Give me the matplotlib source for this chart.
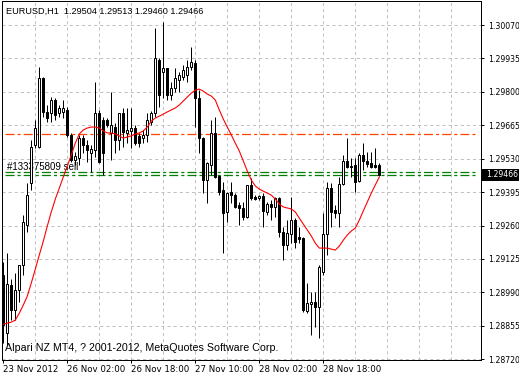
import matplotlib
matplotlib.use('Agg')
import matplotlib.pyplot as plt
from matplotlib import font_manager
from matplotlib.patches import Rectangle

# ---------------- data ----------------
opens = [1.29060, 1.28826, 1.29020, 1.28919, 1.28999, 1.29100, 1.29262, 1.29432, 1.29585, 1.29577,
         1.29856, 1.29719, 1.29714, 1.29767, 1.29714, 1.29719, 1.29727, 1.29626, 1.29525, 1.29533,
         1.29613, 1.29585, 1.29553, 1.29565, 1.29714, 1.29686, 1.29686, 1.29634, 1.29658, 1.29605,
         1.29714, 1.29634, 1.29642, 1.29654, 1.29622, 1.29613, 1.29626, 1.29678, 1.29714, 1.29929,
         1.29880, 1.29896, 1.29787, 1.29815, 1.29848, 1.29860, 1.29868, 1.29900, 1.29916, 1.29775,
         1.29613, 1.29444, 1.29504, 1.29634, 1.29460, 1.29403, 1.29315, 1.29395, 1.29383, 1.29343,
         1.29331, 1.29294, 1.29424, 1.29375, 1.29371, 1.29379, 1.29315, 1.29347, 1.29335, 1.29371,
         1.29234, 1.29181, 1.29226, 1.29282, 1.29214, 1.29209, 1.28915, 1.28943, 1.28951, 1.28931,
         1.29072, 1.29226, 1.29411, 1.29323, 1.29310, 1.29428, 1.29521, 1.29500, 1.29504, 1.29440,
         1.29545, 1.29521, 1.29512, 1.29504, 1.29504]
highs = [1.29113, 1.29149, 1.29044, 1.29068, 1.29100, 1.29302, 1.29432, 1.29605, 1.29686, 1.29900,
         1.29860, 1.29747, 1.29779, 1.29775, 1.29747, 1.29767, 1.29739, 1.29634, 1.29557, 1.29626,
         1.29626, 1.29605, 1.29585, 1.29840, 1.29727, 1.29698, 1.29694, 1.29799, 1.29674, 1.29714,
         1.29735, 1.29735, 1.29735, 1.29666, 1.29634, 1.29646, 1.29714, 1.29723, 1.30058, 1.29937,
         1.30082, 1.29896, 1.29840, 1.29896, 1.29880, 1.29908, 1.29929, 1.29981, 1.29929, 1.29807,
         1.29618, 1.29517, 1.29686, 1.29698, 1.29464, 1.29436, 1.29395, 1.29436, 1.29391, 1.29355,
         1.29355, 1.29424, 1.29452, 1.29383, 1.29383, 1.29391, 1.29355, 1.29363, 1.29375, 1.29375,
         1.29254, 1.29282, 1.29375, 1.29290, 1.29254, 1.29214, 1.29028, 1.28991, 1.28991, 1.29100,
         1.29310, 1.29436, 1.29432, 1.29343, 1.29456, 1.29545, 1.29613, 1.29533, 1.29533, 1.29553,
         1.29593, 1.29557, 1.29557, 1.29573, 1.29513]
lows = [1.28785, 1.28777, 1.28878, 1.28878, 1.28951, 1.29060, 1.29234, 1.29403, 1.29573, 1.29573,
        1.29698, 1.29678, 1.29678, 1.29686, 1.29698, 1.29694, 1.29618, 1.29517, 1.29504, 1.29504,
        1.29553, 1.29517, 1.29476, 1.29537, 1.29512, 1.29464, 1.29658, 1.29525, 1.29553, 1.29565,
        1.29577, 1.29593, 1.29573, 1.29585, 1.29577, 1.29593, 1.29597, 1.29666, 1.29698, 1.29739,
        1.29775, 1.29767, 1.29767, 1.29799, 1.29799, 1.29848, 1.29840, 1.29888, 1.29658, 1.29553,
        1.29391, 1.29351, 1.29464, 1.29452, 1.29383, 1.29149, 1.29274, 1.29351, 1.29331, 1.29262,
        1.29282, 1.29290, 1.29363, 1.29363, 1.29363, 1.29254, 1.29302, 1.29282, 1.29294, 1.29214,
        1.29121, 1.29161, 1.29189, 1.29169, 1.29189, 1.28911, 1.28906, 1.28818, 1.28850, 1.28805,
        1.29060, 1.29141, 1.29254, 1.29290, 1.29254, 1.29424, 1.29492, 1.29456, 1.29395, 1.29436,
        1.29484, 1.29496, 1.29492, 1.29492, 1.29460]
closes = [1.28858, 1.29024, 1.28919, 1.28999, 1.29100, 1.29274, 1.29383, 1.29577, 1.29654, 1.29856,
          1.29719, 1.29694, 1.29767, 1.29706, 1.29735, 1.29735, 1.29626, 1.29525, 1.29541, 1.29613,
          1.29585, 1.29565, 1.29569, 1.29714, 1.29517, 1.29553, 1.29666, 1.29666, 1.29605, 1.29714,
          1.29638, 1.29646, 1.29654, 1.29593, 1.29593, 1.29626, 1.29686, 1.29714, 1.29937, 1.29787,
          1.29896, 1.29787, 1.29815, 1.29856, 1.29868, 1.29888, 1.29900, 1.29921, 1.29775, 1.29613,
          1.29444, 1.29512, 1.29634, 1.29456, 1.29395, 1.29310, 1.29391, 1.29383, 1.29335, 1.29331,
          1.29294, 1.29424, 1.29371, 1.29367, 1.29379, 1.29319, 1.29347, 1.29335, 1.29371, 1.29234,
          1.29181, 1.29230, 1.29282, 1.29193, 1.29205, 1.28919, 1.28947, 1.28951, 1.28931, 1.29092,
          1.29226, 1.29411, 1.29315, 1.29310, 1.29428, 1.29521, 1.29496, 1.29496, 1.29436, 1.29545,
          1.29521, 1.29508, 1.29496, 1.29496, 1.29466]
ma = [1.28862, 1.28866, 1.28870, 1.28878, 1.28906, 1.28939, 1.28975, 1.29028, 1.29084, 1.29141,
      1.29197, 1.29258, 1.29315, 1.29367, 1.29411, 1.29456, 1.29500, 1.29545, 1.29593, 1.29630,
      1.29646, 1.29654, 1.29658, 1.29658, 1.29654, 1.29642, 1.29634, 1.29634, 1.29630, 1.29622,
      1.29613, 1.29618, 1.29622, 1.29630, 1.29634, 1.29642, 1.29658, 1.29682, 1.29694, 1.29702,
      1.29710, 1.29719, 1.29727, 1.29735, 1.29747, 1.29763, 1.29779, 1.29795, 1.29807, 1.29811,
      1.29803, 1.29791, 1.29783, 1.29767, 1.29727, 1.29690, 1.29658, 1.29626, 1.29593, 1.29561,
      1.29521, 1.29480, 1.29444, 1.29420, 1.29407, 1.29399, 1.29391, 1.29383, 1.29367, 1.29347,
      1.29335, 1.29331, 1.29327, 1.29315, 1.29290, 1.29266, 1.29242, 1.29218, 1.29189, 1.29169,
      1.29169, 1.29169, 1.29165, 1.29161, 1.29177, 1.29201, 1.29222, 1.29238, 1.29250, 1.29282,
      1.29319, 1.29355, 1.29391, 1.29424, 1.29456]

price_ticks = [1.30070, 1.29935, 1.29800, 1.29665, 1.29530, 1.29395,
               1.29260, 1.29125, 1.28990, 1.28855, 1.28720]
time_labels = ["23 Nov 2012", "26 Nov 02:00", "26 Nov 18:00",
               "27 Nov 10:00", "28 Nov 02:00", "28 Nov 18:00"]
time_label_bars = [0, 16, 32, 48, 64, 80]
grid_bars = [8, 16, 24, 32, 40, 48, 56, 64, 72, 80, 88, 96, 104, 112]

symbol_text = "EURUSD,H1  1.29504 1.29513 1.29460 1.29466"
footer_text = "Alpari NZ MT4, ? 2001-2012, MetaQuotes Software Corp."
order_label = "#133375809 sell"
level_orange = 1.29630
order_price = 1.29475
bid_price = 1.29466

# ---------------- style ----------------
plt.rcParams['lines.scale_dashes'] = False


def has_font(name):
    try:
        font_manager.findfont(font_manager.FontProperties(family=name),
                              fallback_to_default=False)
        return True
    except Exception:
        return False


if has_font('Liberation Sans Narrow'):
    NARROW, FS_Y, FS_X = 'Liberation Sans Narrow', 7.4, 8.0
else:
    NARROW, FS_Y, FS_X = 'DejaVu Sans', 5.6, 6.2
REG = 'Liberation Sans' if has_font('Liberation Sans') else 'DejaVu Sans'
FS_HEAD, FS_FOOT, FS_ORDER = 6.6, 7.7, 7.0

plt.rcParams['font.family'] = [NARROW, 'DejaVu Sans']

W, H = 519, 378
fig = plt.figure(figsize=(W / 100, H / 100), dpi=100)
fig.patch.set_facecolor('white')
ax = fig.add_axes([1.7 / W, (H - 360) / H, (481.3 - 1.7) / W, (360 - 1) / H])
ax.set_xlim(-0.4, 119.5)
ax.set_ylim(1.28717, 1.30167)
ax.set_facecolor('white')

px = 0.72  # one pixel in points
for s in ax.spines.values():
    s.set_linewidth(px)
    s.set_color('black')

# grid
for p in price_ticks:
    ax.axhline(p, color='#C0C0C0', lw=px, ls=(0, (2.2, 2.2)), zorder=0)
for b in grid_bars:
    ax.axvline(b - 0.1, color='#C0C0C0', lw=px, ls=(0, (2.2, 2.2)), zorder=0)

# horizontal level lines
dashdot = [(0, (6.5, 2.2, 2.2, 2.2))]
ax.hlines(level_orange, 0.4, 118.7, colors='#FF4500', lw=0.9,
          linestyles=dashdot, zorder=1)
ax.hlines(order_price, 0.4, 118.7, colors='#008000', lw=0.9,
          linestyles=dashdot, zorder=1)
ax.hlines(bid_price, 0.4, 118.7, colors='#008000', lw=0.9,
          linestyles=dashdot, zorder=1)

# order label (behind the candles)
ax.text(0.9, order_price + 0.00003, order_label, fontsize=FS_ORDER,
        family=[REG, 'DejaVu Sans'], ha='left', va='bottom', color='black',
        zorder=2)

# candles
n = len(opens)
for i in range(n):
    o, h, l, c = opens[i], highs[i], lows[i], closes[i]
    ax.vlines(i, l, h, colors='black', lw=px, zorder=3)
    bull = c >= o
    lo, hi = min(o, c), max(o, c)
    ax.add_patch(Rectangle((i - 0.25, lo), 0.5, max(hi - lo, 1e-6),
                           facecolor='white' if bull else 'black',
                           edgecolor='black', lw=px, zorder=4))

# moving average
ax.plot(range(len(ma)), ma, color='red', lw=0.8, zorder=5)

# axes ticks
ax.yaxis.tick_right()
ax.set_yticks(price_ticks)
ax.set_yticklabels([f"{p:.5f}" for p in price_ticks])
ax.tick_params(axis='y', direction='out', length=3 * px, width=px, pad=2.5,
               labelsize=FS_Y, colors='black')
ax.set_xticks([b - 0.15 for b in time_label_bars])
ax.set_xticklabels(time_labels)
for t in ax.get_xticklabels():
    t.set_ha('left')
ax.tick_params(axis='x', direction='out', length=3 * px, width=px, pad=1.2,
               labelsize=FS_X, colors='black')

# header / footer
fig.text(6 / W, 1 - 11 / H, symbol_text, fontsize=FS_HEAD,
         family=[REG, 'DejaVu Sans'], ha='left', va='center')
fig.text(5 / W, 1 - 348 / H, footer_text, fontsize=FS_FOOT,
         family=[REG, 'DejaVu Sans'], ha='left', va='center')

# current price box
fig.canvas.draw()
_, yb = ax.transData.transform((0, bid_price))
fig.patches.append(Rectangle((482, yb - 6), 37, 12, transform=None,
                             facecolor='black', edgecolor='none', zorder=10))
fig.text(486 / W, yb / H, f"{bid_price:.5f}", fontsize=FS_Y, color='white',
         ha='left', va='center', zorder=11)

fig.savefig('out.png', dpi=100, facecolor='white')
